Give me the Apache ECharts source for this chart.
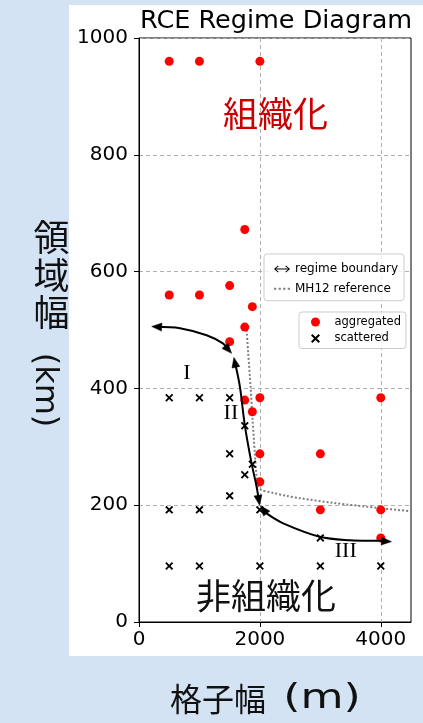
<!DOCTYPE html>
<html>
<head>
<meta charset="utf-8">
<script src="https://cdn.jsdelivr.net/npm/echarts@6/dist/echarts.min.js"></script>
<style>
  html, body { margin: 0; padding: 0; background: #d3e3f3; }
  #wrap { position: relative; width: 423px; height: 723px; overflow: hidden; }
  #panel { position: absolute; left: 69px; top: 5px; width: 354px; height: 651px; background: #ffffff; }
  #chart { position: absolute; left: 0; top: 0; width: 423px; height: 723px; }
</style>
</head>
<body>
<div id="wrap">
  <div id="panel"></div>
  <div id="chart"></div>
</div>
<script>
// RCE runs: [grid spacing (m), domain width (km)]
const aggregated = [
  [500, 960], [1000, 960], [2000, 960],
  [1750, 672],
  [500, 560], [1000, 560], [1500, 576], [1875, 540],
  [1750, 505], [1500, 480],
  [1750, 380], [2000, 384], [1875, 360],
  [2000, 288], [2000, 240],
  [3000, 288], [4000, 384],
  [3000, 192], [4000, 192], [4000, 144]
];
const scattered = [
  [500, 384], [1000, 384], [1500, 384],
  [1750, 336], [1500, 288], [1875, 270], [1750, 252], [1500, 216],
  [500, 192], [1000, 192], [2000, 192],
  [3000, 144],
  [500, 96], [1000, 96], [2000, 96], [3000, 96], [4000, 96]
];

// MH12 reference boundary
const mh12Reference = [
  [1780, 500], [1807, 460], [1846, 403], [1879, 346], [1917, 289],
  [1945, 249], [1972, 232], [2028, 226], [2220, 221], [2441, 216],
  [2661, 212], [3212, 204], [3983, 195], [4479, 190]
];

// regime boundary branches, each drawn with arrow heads at both ends
const boundaryI = [[1532, 460], [1388, 477], [1119, 491], [678, 503], [210, 506]];
const boundaryII = [[1570, 453], [1669, 403], [1752, 336], [1862, 272], [1945, 232], [1995, 200]];
const boundaryIII = [[2010, 199], [2110, 186], [2386, 169], [2992, 146], [3488, 140], [3983, 139], [4176, 137.5]];
const boundaryCurves = [boundaryI, boundaryII, boundaryIII];

const xTickValues = [0, 2000, 4000];
const yTickValues = [0, 200, 400, 600, 800, 1000];

const regimeNames = ['組織化', '非組織化'];
const regimeAnchors = [[2260, 871], [2100, 45]];
const stageNames = ['I', 'II', 'III'];
const stageAnchors = [[793, 426], [1520, 358], [3420, 122]];

const crossPath = 'path://M0 1.6L1.6 0L5 3.4L8.4 0L10 1.6L6.6 5L10 8.4L8.4 10L5 6.6L1.6 10L0 8.4L3.4 5Z';
const doubleArrowPath = 'path://M0 4L4 0.5L4.7 1.2L1.9 3.6L14.1 3.6L11.3 1.2L12 0.5L16 4L12 7.5L11.3 6.8L14.1 4.4L1.9 4.4L4.7 6.8L4 7.5Z';
const dottedPath = 'path://M0 0h2.2v2h-2.2zM4.4 0h2.2v2h-2.2zM8.8 0h2.2v2h-2.2zM13.2 0h2.2v2h-2.2z';

const tickFont = 'DejaVu Sans';
const cjkFont = '"Noto Sans CJK JP", "Noto Sans CJK SC", sans-serif';

// filled arrow head with its tip at `tip`, pointing away from `from`
function arrowHead(tip, from, len, half) {
  const dx = tip[0] - from[0], dy = tip[1] - from[1];
  const d = Math.hypot(dx, dy) || 1;
  const ux = dx / d, uy = dy / d;
  const bx = tip[0] - ux * len, by = tip[1] - uy * len;
  return {
    type: 'polygon',
    shape: { points: [tip, [bx - uy * half, by + ux * half], [bx + uy * half, by - ux * half]] },
    style: { fill: '#000', stroke: '#000', lineWidth: 0.5 }
  };
}

const chart = echarts.init(document.getElementById('chart'));

const option = {
  animation: false,
  backgroundColor: 'transparent',
  title: {
    text: 'RCE Regime Diagram',
    left: 140,
    top: 8,
    padding: 0,
    textStyle: { fontFamily: tickFont, fontSize: 25.5, fontWeight: 'normal', color: '#000' }
  },
  grid: {
    left: 139, right: 12, top: 38, bottom: 101,
    show: true, borderColor: '#000', borderWidth: 1, backgroundColor: 'transparent'
  },
  xAxis: {
    type: 'value', min: 0, max: 4500, interval: 2000,
    axisLine: { lineStyle: { color: '#000', width: 1 } },
    axisTick: { length: 5, lineStyle: { color: '#000' }, customValues: xTickValues },
    axisLabel: {
      fontFamily: tickFont, fontSize: 20, color: '#000', margin: 8,
      customValues: xTickValues, formatter: v => String(v)
    },
    splitLine: { show: true, lineStyle: { color: '#b0b0b0', width: 1, type: [4, 3] } }
  },
  yAxis: {
    type: 'value', min: 0, max: 1000, interval: 200,
    axisLine: { show: true, lineStyle: { color: '#000', width: 1 } },
    axisTick: { show: true, length: 5, lineStyle: { color: '#000' }, customValues: yTickValues },
    axisLabel: {
      fontFamily: tickFont, fontSize: 20, color: '#000', margin: 11,
      customValues: yTickValues, formatter: v => String(v)
    },
    splitLine: { show: true, lineStyle: { color: '#b0b0b0', width: 1, type: [4, 3] } }
  },
  legend: [
    {
      orient: 'vertical', left: 264, top: 254,
      padding: [9, 6, 6, 10], itemWidth: 16, itemHeight: 14, itemGap: 7.7,
      backgroundColor: 'rgba(255,255,255,0.8)', borderColor: '#cccccc', borderWidth: 1, borderRadius: 3,
      selectedMode: false,
      textStyle: { fontFamily: tickFont, fontSize: 12, color: '#000' },
      data: [
        { name: 'regime boundary', icon: doubleArrowPath, itemStyle: { color: '#000' } },
        { name: 'MH12 reference', icon: dottedPath, itemStyle: { color: '#808080' } }
      ]
    },
    {
      orient: 'vertical', left: 299, top: 312,
      padding: [4, 5, 4, 12], itemWidth: 28, itemHeight: 9, itemGap: 4.5,
      backgroundColor: 'rgba(255,255,255,0.8)', borderColor: '#cccccc', borderWidth: 1, borderRadius: 3,
      selectedMode: false,
      textStyle: { fontFamily: tickFont, fontSize: 11.5, color: '#000' },
      data: [
        { name: 'aggregated', icon: 'circle', itemStyle: { color: '#ff0000', opacity: 1 } },
        { name: 'scattered', icon: crossPath, itemStyle: { color: '#000', opacity: 1 } }
      ]
    }
  ],
  series: [
    {
      name: 'MH12 reference',
      type: 'line',
      data: mh12Reference,
      smooth: 0.3,
      symbol: 'none',
      silent: true,
      z: 3,
      lineStyle: { color: '#808080', width: 2, type: [2, 2] },
      itemStyle: { color: '#808080' }
    },
    {
      name: 'aggregated',
      type: 'scatter',
      data: aggregated,
      symbol: 'circle',
      symbolSize: 9,
      silent: true,
      z: 4,
      itemStyle: { color: '#ff0000', opacity: 1 }
    },
    {
      name: 'scattered',
      type: 'scatter',
      data: scattered,
      symbol: crossPath,
      symbolSize: 8,
      silent: true,
      z: 5,
      itemStyle: { color: '#000', opacity: 1 }
    },
    {
      name: 'regime boundary',
      type: 'custom',
      data: boundaryCurves.map((c, i) => [i]),
      encode: { x: 0 },
      clip: false,
      silent: true,
      z: 6,
      itemStyle: { color: '#000' },
      renderItem: function (params, api) {
        const pts = boundaryCurves[params.dataIndex].map(p => api.coord(p));
        const n = pts.length;
        const line = pts.slice();
        // pull the line ends back under the heads
        const trim = (tip, from) => {
          const dx = tip[0] - from[0], dy = tip[1] - from[1];
          const d = Math.hypot(dx, dy) || 1;
          return [tip[0] - dx / d * 5, tip[1] - dy / d * 5];
        };
        line[0] = trim(pts[0], pts[1]);
        line[n - 1] = trim(pts[n - 1], pts[n - 2]);
        return {
          type: 'group',
          children: [
            {
              type: 'polyline',
              shape: { points: line, smooth: 0.35 },
              style: { stroke: '#000', lineWidth: 2, fill: null }
            },
            arrowHead(pts[0], pts[1], 10, 4),
            arrowHead(pts[n - 1], pts[n - 2], 10, 4)
          ]
        };
      }
    }
  ]
};

chart.setOption(option);

const toPx = p => chart.convertToPixel({ gridIndex: 0 }, p);

const graphics = [];
regimeNames.forEach((name, i) => {
  const p = toPx(regimeAnchors[i]);
  graphics.push({
    type: 'text', x: p[0], y: p[1], z: 10,
    style: {
      text: name, fontFamily: cjkFont, fontSize: 35,
      fill: i === 0 ? '#cc0000' : '#111111',
      textAlign: 'center', textVerticalAlign: 'middle'
    }
  });
});
stageNames.forEach((name, i) => {
  const p = toPx(stageAnchors[i]);
  graphics.push({
    type: 'text', x: p[0], y: p[1], z: 10,
    style: {
      text: name, fontFamily: '"Liberation Serif", "DejaVu Serif", serif', fontSize: 22,
      fill: '#000', textAlign: 'center', textVerticalAlign: 'middle'
    }
  });
});

// y-axis title, written vertically
graphics.push({
  type: 'text', x: 51.5, y: 219, z: 10,
  style: {
    text: '領\n域\n幅', fontFamily: cjkFont, fontSize: 36, lineHeight: 37.5,
    fill: '#111111', textAlign: 'center', textVerticalAlign: 'top'
  }
});
graphics.push({
  type: 'text', x: 44, y: 390, z: 10, rotation: -Math.PI / 2,
  style: {
    text: '(km)', fontFamily: tickFont, fontSize: 32,
    fill: '#111111', textAlign: 'center', textVerticalAlign: 'middle'
  }
});

// x-axis title
graphics.push({
  type: 'text', x: 170, y: 699, z: 10,
  style: {
    text: '格子幅', fontFamily: cjkFont, fontSize: 32,
    fill: '#111111', textAlign: 'left', textVerticalAlign: 'middle'
  }
});
graphics.push({
  type: 'text', x: 322, y: 699, z: 10, scaleX: 1.3,
  style: {
    text: '(m)', fontFamily: tickFont, fontSize: 34,
    fill: '#111111', textAlign: 'center', textVerticalAlign: 'middle'
  }
});

chart.setOption({ graphic: graphics });
</script>
</body>
</html>
